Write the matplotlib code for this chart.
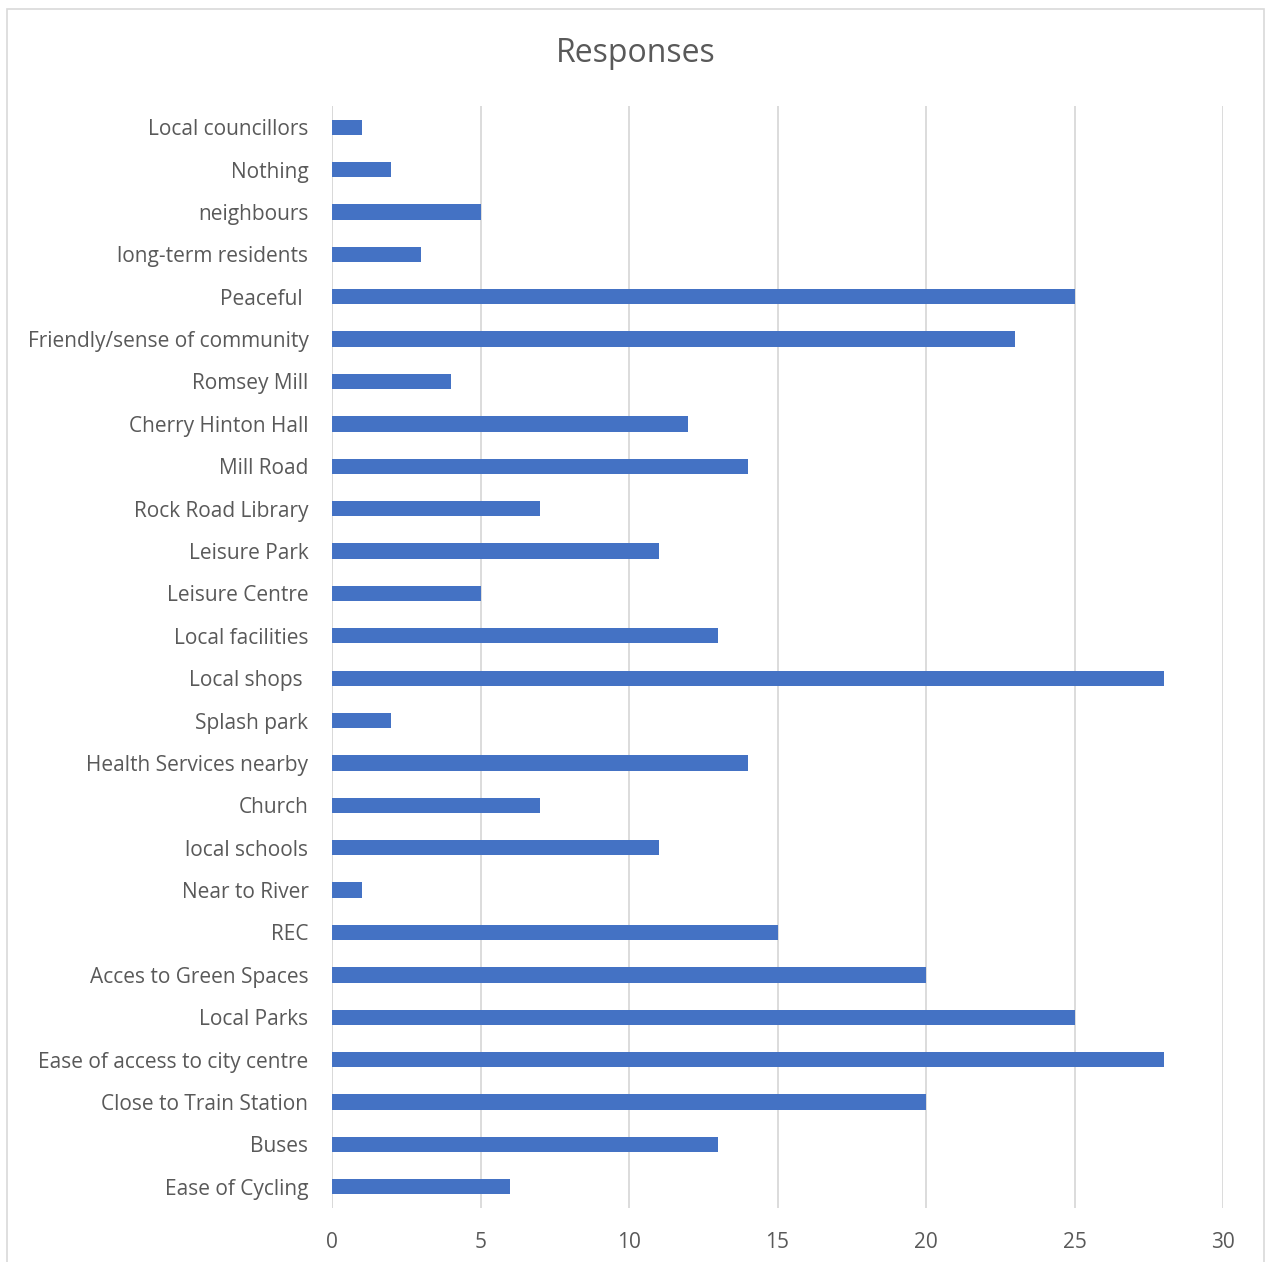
import matplotlib
matplotlib.use("Agg")
import matplotlib.pyplot as plt
from matplotlib.patches import Rectangle

# categories top to bottom as shown in the chart
categories = [
    "Local councillors", "Nothing", "neighbours", "long-term residents",
    "Peaceful ", "Friendly/sense of community", "Romsey Mill",
    "Cherry Hinton Hall", "Mill Road", "Rock Road Library", "Leisure Park",
    "Leisure Centre", "Local facilities", "Local shops ", "Splash park",
    "Health Services nearby", "Church", "local schools", "Near to River",
    "REC", "Acces to Green Spaces", "Local Parks",
    "Ease of access to city centre", "Close to Train Station", "Buses",
    "Ease of Cycling",
]
responses = [1, 2, 5, 3, 25, 23, 4, 12, 14, 7, 11, 5, 13, 28, 2, 14, 7, 11,
             1, 15, 20, 25, 28, 20, 13, 6]
x_ticks = [0, 5, 10, 15, 20, 25, 30]

text_col = "#595959"
plt.rcParams["font.family"] = ["Open Sans", "DejaVu Sans"]

fig = plt.figure(figsize=(12.65, 12.62), dpi=100)
# outer chart border
fig.patches.append(Rectangle((7.5 / 1265, -0.01), 1256 / 1265, 1.01 - 8.5 / 1262,
                             transform=fig.transFigure, fill=False,
                             edgecolor="#D9D9D9", linewidth=1.2))

ax = fig.add_axes([332 / 1265, 54 / 1262, 891 / 1265, 1102 / 1262])
ypos = list(range(len(categories)))
ax.barh(ypos, responses, height=0.36, color="#4472C4", zorder=3)
ax.set_ylim(len(categories) - 0.5, -0.5)
ax.set_xlim(0, 30)
ax.set_xticks(x_ticks)
ax.set_yticks(ypos)
ax.set_yticklabels(categories)
ax.tick_params(axis="y", length=0, pad=17, labelsize=15, labelcolor=text_col)
ax.tick_params(axis="x", length=0, pad=17, labelsize=15, labelcolor=text_col)
ax.grid(axis="x", color="#D9D9D9", linewidth=1.3, zorder=0)
for s in ax.spines.values():
    s.set_visible(False)
ax.axvline(0, color="#D9D9D9", linewidth=1.3, zorder=2)

fig.text(636 / 1265, 1 - 54 / 1262, "Responses", ha="center", va="center",
         fontsize=23, color=text_col)

fig.savefig("out.png", dpi=100)
